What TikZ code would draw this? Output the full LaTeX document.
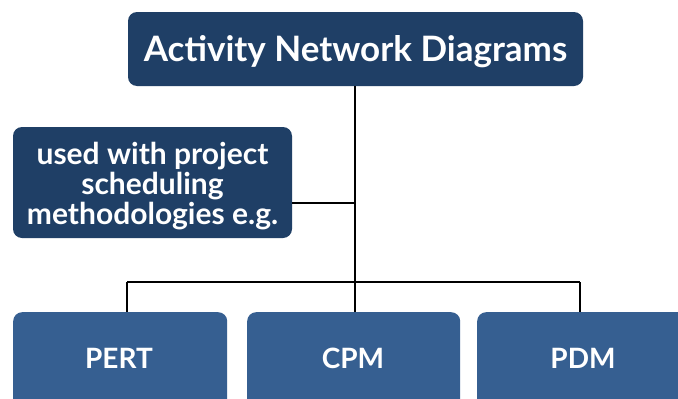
\documentclass[tikz,border=0pt]{standalone}
\usepackage{fontspec}
\setmainfont{Lato}
\begin{document}
\begin{tikzpicture}[x=1pt,y=-1pt,
  dark/.style={fill={rgb,255:red,31;green,63;blue,102}, rounded corners=9pt, text=white, align=center},
  light/.style={fill={rgb,255:red,54;green,95;blue,145}, rounded corners=9pt, text=white},
  lbl/.style={text=white, font=\fontsize{28}{32}\selectfont\bfseries},
  conn/.style={line width=2pt, black}]
\useasboundingbox (0,0) rectangle (678,399);
\clip (0,0) rectangle (678,399);
\fill[white] (0,0) rectangle (678,399);
\node[dark, minimum width=455pt, minimum height=74pt, text height=25pt, text depth=0pt, font=\fontsize{35}{40}\selectfont\bfseries] (top) at (355.5,49) {Activity Network Diagrams};
\node[dark, minimum width=279pt, minimum height=111pt] (side) at (152.5,182.5) {};
\node[text=white, align=center, font=\fontsize{30}{30}\selectfont\bfseries] (sidetext) at (152.5,186) {used with project\\scheduling\\methodologies e.g.};
\node[light, minimum width=214pt, minimum height=110pt, anchor=north west] (pert) at (13,312) {};
\node[light, minimum width=213pt, minimum height=110pt, anchor=north west] (cpm) at (247,312) {};
\node[light, minimum width=220pt, minimum height=110pt, anchor=north west] (pdm) at (477,312) {};
\node[lbl] (t1) at (119,358) {PERT};
\node[lbl] (t2) at (353,358) {CPM};
\node[lbl] (t3) at (583,358) {PDM};
\coordinate (bus) at (355,282);
\coordinate (j) at (355,203);
\draw[conn] (top.south -| bus) -- (bus);
\draw[conn] (side.east |- j) -- (j);
\draw[conn] (bus -| 127,0) -- (bus -| 580,0);
\draw[conn] (bus -| 127,0) -- (127,312);
\draw[conn] (bus) -- (cpm.north -| bus);
\draw[conn] (bus -| 580,0) -- (580,312);
\end{tikzpicture}
\end{document}
